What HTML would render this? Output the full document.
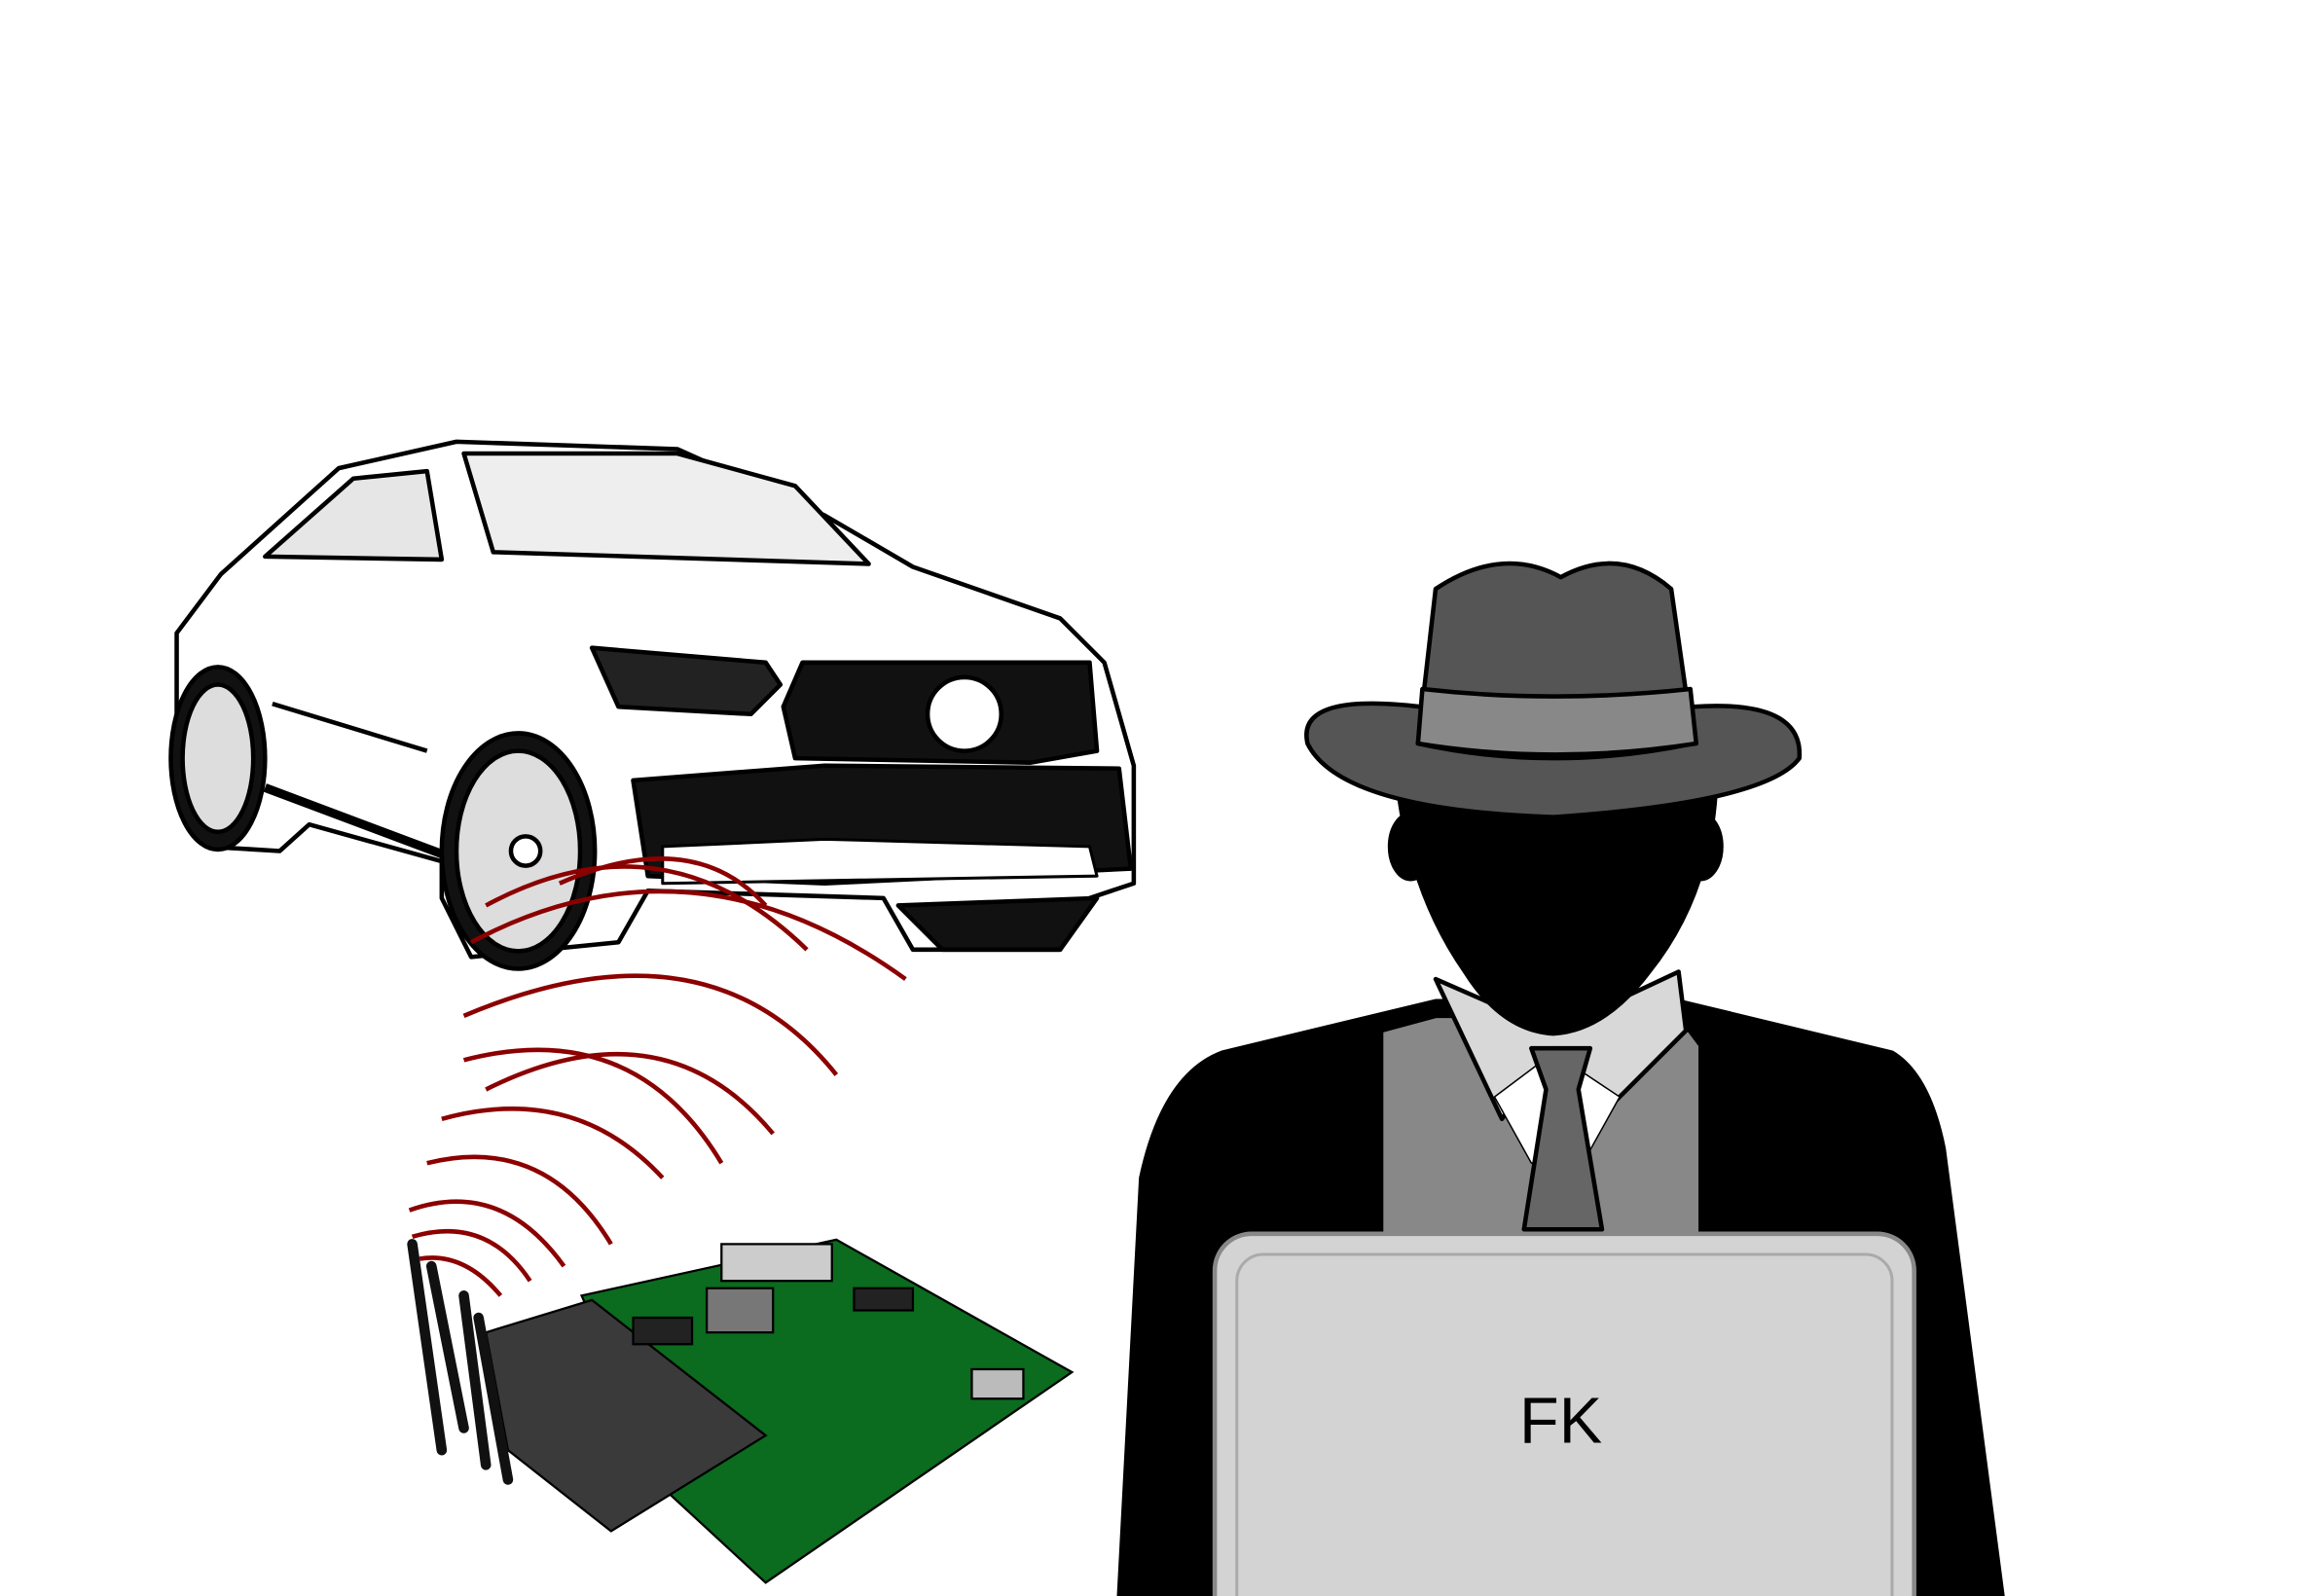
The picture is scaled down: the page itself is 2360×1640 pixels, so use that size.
<!DOCTYPE html>
<html><head><meta charset="utf-8"><style>
html,body{margin:0;padding:0;background:#fff;width:2360px;height:1640px;overflow:hidden}
svg{display:block}
</style></head><body>
<svg width="2360" height="1640" viewBox="0 0 1560 1084" xmlns="http://www.w3.org/2000/svg">
<rect width="1560" height="1084" fill="#fff"/>
<!-- CAR -->
<g stroke="#000" stroke-width="3" stroke-linejoin="round">
  <path d="M120,430 L150,390 L230,318 L310,300 L460,305 L560,350 L620,385 L720,420 L750,450 L770,520 L770,600 L740,610 L720,645 L620,645 L600,610 L440,605 L420,640 L320,650 L300,610 L300,585 L210,560 L190,578 L140,575 L120,520 Z" fill="#fff"/>
  <path d="M315,308 L335,375 L590,383 L540,330 L460,308 Z" fill="#eee"/>
  <path d="M180,378 L240,325 L290,320 L300,380 Z" fill="#e6e6e6"/>
  <path d="M402,440 L520,450 L530,465 L510,485 L420,480 Z" fill="#222"/>
  <path d="M545,450 L740,450 L745,510 L700,518 L540,515 L532,480 Z" fill="#111"/>
  <circle cx="655" cy="485" r="25" fill="#fff"/>
  <path d="M430,530 L560,520 L760,522 L768,590 L560,600 L440,595 Z" fill="#111"/>
  <path d="M450,575 L560,570 L740,575 L745,595 L450,600 Z" fill="#fff" stroke-width="2"/>
  <ellipse cx="352" cy="578" rx="52" ry="80" fill="#111"/>
  <ellipse cx="352" cy="578" rx="42" ry="68" fill="#ddd"/>
  <circle cx="357" cy="578" r="10" fill="#fff"/>
  <ellipse cx="148" cy="515" rx="32" ry="62" fill="#111"/>
  <ellipse cx="148" cy="515" rx="24" ry="50" fill="#ddd"/>
  <path d="M185,478 L290,510" fill="none"/>
  <path d="M180,535 L300,580" fill="none" stroke-width="6"/>
  <path d="M640,645 L610,615 L745,610 L720,645 Z" fill="#111"/>
</g>
<!-- SIGNAL ARCS -->
<g fill="none" stroke="#8b0000" stroke-width="3">
  <path d="M320,640 Q470,560 615,665"/>
  <path d="M330,615 Q450,550 548,645"/>
  <path d="M380,600 Q470,560 520,615"/>
  <path d="M315,690 Q480,620 568,730"/>
  <path d="M330,740 Q450,680 525,770"/>
  <path d="M315,720 Q430,690 490,790"/>
  <path d="M300,760 Q390,735 450,800"/>
  <path d="M290,790 Q370,770 415,845"/>
  <path d="M278,822 Q340,800 383,860"/>
  <path d="M280,840 Q330,825 360,870"/>
  <path d="M285,855 Q315,850 340,880"/>
</g>
<!-- PCB -->
<g stroke="#000" stroke-width="1.5">
  <polygon points="395,880 568,842 728,932 520,1075 455,1015" fill="#0b6b1e"/>
  <polygon points="330,905 402,883 520,975 415,1040 345,985" fill="#3a3a3a"/>
  <rect x="490" y="845" width="75" height="25" fill="#ccc"/>
  <rect x="480" y="875" width="45" height="30" fill="#777"/>
  <rect x="580" y="875" width="40" height="15" fill="#222"/>
  <rect x="430" y="895" width="40" height="18" fill="#222"/>
  <rect x="660" y="930" width="35" height="20" fill="#bbb"/>
  <g stroke="#111" stroke-width="7" stroke-linecap="round">
    <line x1="280" y1="845" x2="300" y2="985"/>
    <line x1="293" y1="860" x2="315" y2="970"/>
    <line x1="315" y1="880" x2="330" y2="995"/>
    <line x1="325" y1="895" x2="345" y2="1005"/>
  </g>
</g>
<!-- MAN -->
<g stroke="#000" stroke-width="3" stroke-linejoin="round">
  <path d="M760,1084 L775,800 Q790,730 830,715 L975,680 L1140,680 L1285,715 Q1310,730 1320,780 L1360,1084 Z" fill="#000"/>
  <path d="M938,700 L975,690 L1140,690 L1155,710 L1155,840 L938,840 Z" fill="#888"/>
  <path d="M975,665 L1020,760 L1055,712 L1085,760 L1145,700 L1140,660 L1055,700 Z" fill="#d8d8d8"/>
  <path d="M1015,745 L1040,790 L1075,790 L1100,745 L1055,715 Z" fill="#fff" stroke-width="1"/>
  <path d="M1040,712 L1080,712 L1072,740 L1088,835 L1035,835 L1050,740 Z" fill="#666"/>
  <ellipse cx="958" cy="575" rx="14" ry="22" fill="#000"/>
  <ellipse cx="1155" cy="575" rx="14" ry="22" fill="#000"/>
  <path d="M950,540 L1165,540 Q1160,610 1120,660 Q1090,700 1055,702 Q1020,700 995,660 Q960,610 950,540 Z" fill="#000"/>
  <path d="M888,505 Q880,470 965,480 L1150,480 Q1225,475 1222,515 Q1200,545 1055,555 Q910,550 888,505 Z" fill="#555"/>
  <path d="M963,505 L975,400 Q1020,370 1060,392 Q1100,370 1135,400 L1150,505 Q1055,525 963,505 Z" fill="#555"/>
  <path d="M966,468 Q1055,478 1148,468 L1152,505 Q1055,520 963,505 Z" fill="#888"/>
  <rect x="825" y="838" width="475" height="270" rx="25" fill="#d3d3d3" stroke="#888"/>
  <rect x="840" y="852" width="445" height="250" rx="18" fill="none" stroke="#aaa" stroke-width="2"/>
  <text x="1060" y="980" font-family="Liberation Sans, sans-serif" font-size="44" text-anchor="middle" fill="#000" stroke="none">FK</text>
</g>
</svg>
</body></html>
